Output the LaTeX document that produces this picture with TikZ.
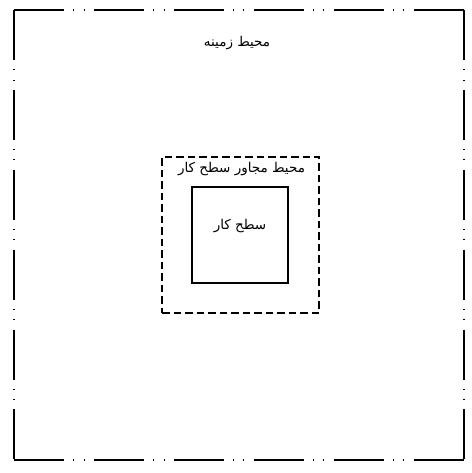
\documentclass[tikz,border=0pt]{standalone}
\usepackage{fontspec}
\usepackage{tikz}
\usetikzlibrary{calc}
\newfontfamily\farsifont[Script=Arabic]{DejaVu Sans}
\TeXXeTstate=1

\tikzset{
  groundline/.style={line width=1.4pt, dash pattern=on 50pt off 9.3pt on 1pt off 9.3pt on 1pt off 9.3pt},
  adjzone/.style={draw, line width=1.1pt, dash pattern=on 7.5pt off 4pt, inner sep=0pt},
  worksurf/.style={draw, line width=1.6pt, inner sep=0pt},
  farsilabel/.style={inner sep=1pt, font=\farsifont\fontsize{13.5}{15}\selectfont}
}

\begin{document}
\begin{tikzpicture}[x=1pt, y=1pt]
    \useasboundingbox (0,0) rectangle (471,473);
    % frame of the ground zone
    \coordinate (gnw) at (14,463);
    \coordinate (gne) at (464,463);
    \coordinate (gse) at (464,13);
    \coordinate (gsw) at (14,13);
    \draw[groundline] (gnw) -- (gne);
    \draw[groundline] (gnw) -- (gsw);
    \draw[groundline] (gne) -- (gse);
    \draw[groundline] (gsw) -- (gse);
    \node[farsilabel] (groundlbl) at (237,430) {\beginR محیط زمینه\endR};

    % zones round the work surface
    \node[adjzone, minimum width=157pt, minimum height=156pt] (adj) at (240.5,238) {};
    \node[farsilabel, anchor=center] (adjlbl) at ([xshift=1pt, yshift=-13pt] adj.north) {\beginR محیط مجاور سطح کار\endR};
    \node[worksurf, minimum width=96pt, minimum height=96pt] (work) at (240,238) {};
    \node[farsilabel] (worklbl) at ([yshift=9pt] work.center) {\beginR سطح کار\endR};
  \end{tikzpicture}
\end{document}
